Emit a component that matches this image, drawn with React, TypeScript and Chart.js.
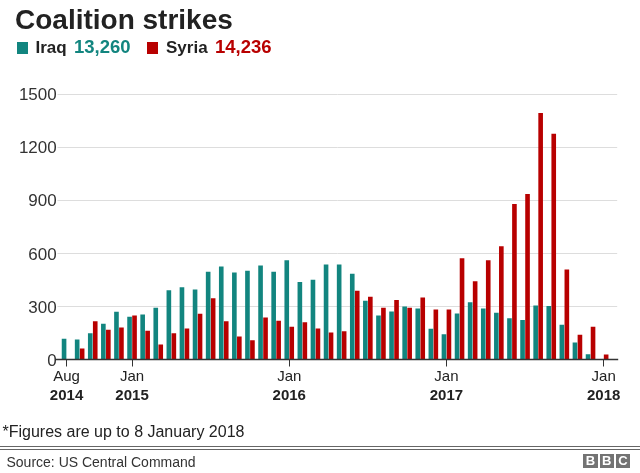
import React, { useEffect, useRef } from 'react';
import { Chart, registerables } from 'chart.js';

Chart.register(...registerables);

const CATEGORIES = [
  'Aug 2014', 'Sep 2014', 'Oct 2014', 'Nov 2014', 'Dec 2014',
  'Jan 2015', 'Feb 2015', 'Mar 2015', 'Apr 2015', 'May 2015', 'Jun 2015',
  'Jul 2015', 'Aug 2015', 'Sep 2015', 'Oct 2015', 'Nov 2015', 'Dec 2015',
  'Jan 2016', 'Feb 2016', 'Mar 2016', 'Apr 2016', 'May 2016', 'Jun 2016',
  'Jul 2016', 'Aug 2016', 'Sep 2016', 'Oct 2016', 'Nov 2016', 'Dec 2016',
  'Jan 2017', 'Feb 2017', 'Mar 2017', 'Apr 2017', 'May 2017', 'Jun 2017',
  'Jul 2017', 'Aug 2017', 'Sep 2017', 'Oct 2017', 'Nov 2017', 'Dec 2017',
  'Jan 2018',
];

const IRAQ = [
  117, 113, 149, 202, 270,
  242, 255, 293, 392, 408, 396, 496, 526, 492, 502, 532, 496,
  562, 438, 451, 538, 538, 485, 332, 249, 272, 300, 289, 174,
  143, 260, 324, 289, 264, 234, 223, 306, 302, 196, 96, 30,
  0,
];

const SYRIA = [
  0, 62, 217, 168, 181,
  249, 162, 85, 149, 176, 259, 347, 217, 130, 109, 238, 219,
  185, 211, 176, 153, 160, 389, 355, 293, 336, 293, 351, 283,
  283, 572, 442, 562, 640, 879, 936, 1394, 1277, 509, 140, 185,
  28,
];

const TICK_INDEX = [0, 5, 17, 29, 41];
const TICK_MONTH = ['Aug', 'Jan', 'Jan', 'Jan', 'Jan'];
const TICK_YEAR = ['2014', '2015', '2016', '2017', '2018'];

const Y_MIN = 0;
const Y_MAX = 1500;
const Y_STEP = 300;

const TEAL = '#12857f';
const RED = '#b80000';
const FONT = '"Liberation Sans", Arial, Helvetica, sans-serif';

const gridPlugin = {
  id: 'bbcGrid',
  beforeDatasetsDraw(chart: any) {
    const y = chart.scales.y;
    const area = chart.chartArea;
    const ctx = chart.ctx;
    ctx.save();
    ctx.strokeStyle = '#dddddd';
    ctx.lineWidth = 1;
    y.ticks.forEach((t: any) => {
      if (t.value === 0) return;
      const py = Math.round(y.getPixelForValue(t.value)) + 0.5;
      ctx.beginPath();
      ctx.moveTo(area.left - 2.5, py);
      ctx.lineTo(area.right + 7, py);
      ctx.stroke();
    });
    ctx.restore();
  },
  afterDatasetsDraw(chart: any) {
    const y = chart.scales.y;
    const area = chart.chartArea;
    const ctx = chart.ctx;
    const py = y.getPixelForValue(0);
    ctx.save();
    ctx.strokeStyle = '#333333';
    ctx.lineWidth = 1.3;
    ctx.beginPath();
    ctx.moveTo(area.left - 5, py);
    ctx.lineTo(area.right + 8, py);
    ctx.stroke();
    ctx.restore();
  },
};

function BarChart() {
  const ref = useRef<HTMLCanvasElement | null>(null);
  useEffect(() => {
    if (!ref.current) return;
    const chart = new Chart(ref.current, {
      type: 'bar',
      data: {
        labels: CATEGORIES,
        datasets: [
          {
            label: 'Iraq',
            data: IRAQ,
            backgroundColor: TEAL,
            categoryPercentage: 0.76,
            barPercentage: 0.93,
          },
          {
            label: 'Syria',
            data: SYRIA,
            backgroundColor: RED,
            categoryPercentage: 0.76,
            barPercentage: 0.93,
          },
        ],
      },
      options: {
        animation: false,
        responsive: false,
        maintainAspectRatio: false,
        layout: { padding: { top: 94.3, bottom: 67.5, left: 0, right: 29.8 } },
        plugins: {
          legend: { display: false },
          tooltip: { enabled: false },
          title: { display: false },
        },
        scales: {
          x: {
            type: 'category',
            position: 'bottom',
            offset: true,
            border: { display: false },
            grid: {
              display: true,
              drawOnChartArea: false,
              drawTicks: true,
              tickLength: 7,
              offset: false,
              tickWidth: 1,
              tickColor: (ctx: any) =>
                TICK_INDEX.includes(ctx.index) ? '#333333' : 'rgba(0,0,0,0)',
              color: (ctx: any) =>
                TICK_INDEX.includes(ctx.index) ? '#333333' : 'rgba(0,0,0,0)',
            },
            ticks: {
              autoSkip: false,
              maxRotation: 0,
              minRotation: 0,
              padding: 1.5,
              color: '#222222',
              font: { family: FONT, size: 15, weight: 'normal' },
              callback: (_v: any, i: number) => {
                const k = TICK_INDEX.indexOf(i);
                return k >= 0 ? TICK_MONTH[k] : '';
              },
            },
            afterFit: (s: any) => {
              s.height = 26;
            },
          },
          x2: {
            type: 'category',
            position: 'bottom',
            offset: true,
            border: { display: false },
            grid: { display: false, drawTicks: false, tickLength: 0 },
            ticks: {
              autoSkip: false,
              maxRotation: 0,
              minRotation: 0,
              padding: 1.8,
              color: '#222222',
              font: { family: FONT, size: 15, weight: 'bold' },
              callback: (_v: any, i: number) => {
                const k = TICK_INDEX.indexOf(i);
                return k >= 0 ? TICK_YEAR[k] : '';
              },
            },
            afterFit: (s: any) => {
              s.height = 20;
            },
          },
          y: {
            min: Y_MIN,
            max: Y_MAX,
            border: { display: false },
            grid: { display: false, drawTicks: false, tickLength: 0 },
            ticks: {
              stepSize: Y_STEP,
              padding: 3.3,
              labelOffset: 1.4,
              color: '#333333',
              font: { family: FONT, size: 17 },
              callback: (v: any) => String(v),
            },
            afterFit: (s: any) => {
              s.width = 60;
            },
          },
        },
      },
      plugins: [gridPlugin],
    } as any);
    return () => chart.destroy();
  }, []);
  return (
    <canvas
      ref={ref}
      width={640}
      height={473}
      style={{ position: 'absolute', left: 0, top: 0, width: 640, height: 473 }}
    />
  );
}

const abs = (left: number, top: number, size: number, extra: any = {}) => ({
  position: 'absolute' as const,
  left,
  top,
  fontSize: size,
  lineHeight: `${size}px`,
  fontFamily: FONT,
  whiteSpace: 'nowrap' as const,
  margin: 0,
  ...extra,
});

export default function App() {
  return (
    <div
      style={{
        position: 'absolute',
        left: 0,
        top: 0,
        width: 640,
        height: 473,
        background: '#ffffff',
        overflow: 'hidden',
        fontFamily: FONT,
      }}
    >
      <BarChart />
      <div style={abs(15, 5.6, 28, { fontWeight: 'bold', color: '#222222' })}>
        Coalition strikes
      </div>
      <div
        style={{ position: 'absolute', left: 16.5, top: 41.5, width: 11, height: 12, background: TEAL }}
      />
      <div style={abs(35.5, 38.9, 17, { fontWeight: 'bold', color: '#222222' })}>Iraq</div>
      <div style={abs(74, 37.6, 18.5, { fontWeight: 'bold', color: TEAL })}>13,260</div>
      <div
        style={{ position: 'absolute', left: 146.5, top: 41.5, width: 11, height: 12, background: RED }}
      />
      <div style={abs(166, 38.9, 17, { fontWeight: 'bold', color: '#222222' })}>Syria</div>
      <div style={abs(215, 37.6, 18.5, { fontWeight: 'bold', color: RED })}>14,236</div>

      <div style={abs(2.5, 424.2, 16, { color: '#222222' })}>*Figures are up to 8 January 2018</div>
      <div style={{ position: 'absolute', left: 0, top: 446, width: 640, height: 1, background: '#666666' }} />
      <div style={{ position: 'absolute', left: 0, top: 449, width: 640, height: 1, background: '#666666' }} />
      <div style={abs(6.5, 454.9, 14, { color: '#333333' })}>Source: US Central Command</div>
      {['B', 'B', 'C'].map((ch, i) => (
        <div
          key={i}
          style={{
            position: 'absolute',
            left: 583.3 + i * 16.2,
            top: 454,
            width: 14.5,
            height: 13.5,
            background: '#737373',
            color: '#ffffff',
            fontFamily: FONT,
            fontWeight: 'bold',
            fontSize: 13,
            lineHeight: '13.5px',
            textAlign: 'center',
          }}
        >
          {ch}
        </div>
      ))}
    </div>
  );
}
